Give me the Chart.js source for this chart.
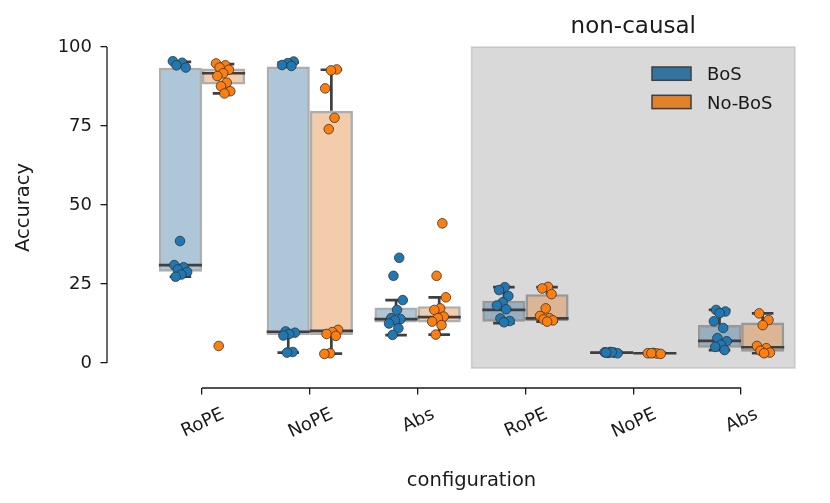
<!DOCTYPE html>
<html>
<head>
<meta charset="utf-8">
<script src="https://cdn.jsdelivr.net/npm/chart.js@4.4.1/dist/chart.umd.min.js"></script>
<style>
  html, body { margin: 0; padding: 0; background: #fff; }
  #wrap { width: 830px; height: 503px; }
</style>
</head>
<body>
<div id="wrap"><canvas id="chart" width="830" height="503"></canvas></div>
<script>
// x categories (first three causal, last three non-causal)
const categories = ["RoPE", "NoPE", "Abs", "RoPE", "NoPE", "Abs"];
const nonCausal = [false, false, false, true, true, true];
const hues = ["BoS", "No-BoS"];
const yTicks = [0, 25, 50, 75, 100];

// box statistics (accuracy)
const bosLow = [27.3, 3.3, 8.8, 12.6, 3.1, 4.1];
const bosQ1 = [28.9, 8.9, 12.8, 13.1, 3.2, 4.8];
const bosMed = [31.0, 9.9, 13.9, 16.8, 3.3, 7.0];
const bosQ3 = [93.4, 93.8, 17.6, 19.7, 3.4, 12.0];
const bosHigh = [95.3, 95.1, 19.9, 24.0, 3.5, 16.8];

const nobosLow = [85.3, 3.0, 9.0, 13.1, 2.9, 3.1];
const nobosQ1 = [88.1, 8.9, 12.8, 13.2, 3.0, 3.6];
const nobosMed = [91.7, 10.2, 14.5, 14.1, 3.1, 5.0];
const nobosQ3 = [93.2, 79.8, 18.0, 21.8, 3.2, 12.8];
const nobosHigh = [94.6, 92.8, 20.8, 24.0, 3.3, 15.7];

// individual runs (strip points)
const bosPoints = [
  [95.5, 95.0, 94.2, 93.5, 38.6, 31.0, 30.3, 29.6, 28.8, 28.0, 27.3],
  [95.4, 94.9, 94.3, 94.0, 10.0, 9.6, 9.2, 8.7, 3.5, 3.3],
  [33.3, 27.6, 19.9, 16.8, 14.2, 13.9, 13.5, 12.5, 11.0, 8.9],
  [24.0, 23.1, 21.2, 19.2, 18.2, 17.0, 14.1, 13.3, 12.9],
  [3.5, 3.4, 3.3, 3.2, 3.1, 3.4, 3.3],
  [16.8, 16.3, 15.8, 13.2, 11.1, 7.9, 6.9, 5.8, 5.1, 4.1],
];
const nobosPoints = [
  [94.8, 94.2, 93.5, 92.8, 91.7, 90.8, 88.7, 87.6, 86.0, 85.3, 5.4],
  [92.9, 92.6, 86.9, 77.6, 74.0, 10.5, 9.8, 9.2, 8.6, 3.1, 2.9],
  [44.2, 27.6, 20.8, 17.3, 16.8, 14.7, 14.2, 13.1, 12.0, 9.0],
  [24.1, 23.6, 21.8, 17.3, 14.9, 14.2, 13.8, 13.5, 13.1],
  [3.2, 3.1, 3.0, 3.1, 2.9],
  [15.7, 13.6, 12.0, 5.4, 4.7, 3.9, 3.3, 3.1],
];

const spanBottom = -1.6;
const ink = "#1a1a1a";
const FONT = "DejaVu Sans";

Chart.defaults.font.family = FONT;

// small deterministic jitter for the strip points
function jitter(i) {
  return (((i * 0.6180339) % 1) - 0.5) * 0.14;
}

function stripPoints(values, offset) {
  const pts = [];
  values.forEach((vals, c) => {
    vals.forEach((v, i) => pts.push({ x: c + offset + jitter(i + c * 3), y: v }));
  });
  return pts;
}

function boxes(q1, q3) {
  return q1.map((v, c) => ({ x: c, y: [v, q3[c]] }));
}

// medians, whiskers and caps as one broken line
function boxLines(lo, q1, med, q3, hi, offset) {
  const pts = [];
  const seg = (x0, y0, x1, y1) => {
    pts.push({ x: x0, y: y0 }, { x: x1, y: y1 }, { x: x1, y: null });
  };
  categories.forEach((_, c) => {
    const cx = c + offset;
    seg(cx - 0.2, med[c], cx + 0.2, med[c]);
    seg(cx, q3[c], cx, hi[c]);
    seg(cx, q1[c], cx, lo[c]);
    seg(cx - 0.1, hi[c], cx + 0.1, hi[c]);
    seg(cx - 0.1, lo[c], cx + 0.1, lo[c]);
  });
  return pts;
}

const lineStyle = {
  type: "line",
  borderColor: "#3f3f3f",
  borderWidth: 2.7,
  borderCapStyle: "butt",
  pointRadius: 0,
  fill: false,
  spanGaps: false,
  tension: 0,
  order: 1,
};

const boxStyle = {
  type: "bar",
  borderWidth: 2.6,
  borderColor: "rgba(63,63,63,0.42)",
  borderSkipped: false,
  categoryPercentage: 0.8,
  barPercentage: 1.0,
  order: 2,
};

const pointStyle = {
  type: "scatter",
  pointRadius: 4.8,
  pointBorderWidth: 0.8,
  pointBorderColor: "#333333",
  order: 0,
};

const overlay = {
  id: "overlay",
  beforeDatasetsDraw(chart) {
    const { ctx, scales: { x, y } } = chart;
    const first = nonCausal.indexOf(true);
    const x0 = x.getPixelForValue(first - 0.5);
    const x1 = x.getPixelForValue(categories.length - 0.5);
    const y0 = y.getPixelForValue(100);
    const y1 = y.getPixelForValue(spanBottom);
    ctx.save();
    ctx.fillStyle = "rgba(128,128,128,0.3)";
    ctx.fillRect(x0, y0, x1 - x0, y1 - y0);
    ctx.strokeStyle = "rgba(128,128,128,0.3)";
    ctx.lineWidth = 1.5;
    ctx.strokeRect(x0, y0, x1 - x0, y1 - y0);
    ctx.restore();
  },
  afterDraw(chart) {
    const { ctx, chartArea, scales: { x, y } } = chart;
    ctx.save();

    // trimmed spines
    ctx.strokeStyle = ink;
    ctx.lineWidth = 1.3;
    ctx.beginPath();
    ctx.moveTo(chartArea.left, y.getPixelForValue(yTicks[0]));
    ctx.lineTo(chartArea.left, y.getPixelForValue(yTicks[yTicks.length - 1]));
    ctx.moveTo(x.getPixelForValue(0), chartArea.bottom);
    ctx.lineTo(x.getPixelForValue(categories.length - 1), chartArea.bottom);
    ctx.stroke();

    // rotated, centred x tick labels
    ctx.fillStyle = ink;
    ctx.font = "18px " + FONT;
    ctx.textAlign = "center";
    ctx.textBaseline = "alphabetic";
    const rot = (25 * Math.PI) / 180;
    const capH = 13.1;
    categories.forEach((label, i) => {
      const w = ctx.measureText(label).width;
      const cy = chartArea.bottom + 18 + (w * Math.sin(rot) + capH * Math.cos(rot)) / 2;
      ctx.save();
      ctx.translate(x.getPixelForValue(i), cy);
      ctx.rotate(-rot);
      ctx.fillText(label, 0, capH / 2);
      ctx.restore();
    });

    // axis titles
    ctx.font = "19.5px " + FONT;
    ctx.fillText("configuration", (x.getPixelForValue(-0.5) + x.getPixelForValue(5.5)) / 2, 486);
    ctx.save();
    ctx.translate(29, (y.getPixelForValue(100) + y.getPixelForValue(spanBottom)) / 2);
    ctx.rotate(-Math.PI / 2);
    ctx.fillText("Accuracy", 0, 0);
    ctx.restore();

    // panel title over the non-causal span
    const first = nonCausal.indexOf(true);
    ctx.font = "23px " + FONT;
    ctx.fillText("non-causal",
      (x.getPixelForValue(first - 0.5) + x.getPixelForValue(categories.length - 0.5)) / 2, 32.5);

    // legend
    const legendColors = ["#3274a1", "#e1812c"];
    ctx.font = "18px " + FONT;
    ctx.textAlign = "left";
    hues.forEach((name, i) => {
      const top = 67 + i * 28.3;
      ctx.fillStyle = legendColors[i];
      ctx.fillRect(652, top, 39, 13.3);
      ctx.strokeStyle = "#3f3f3f";
      ctx.lineWidth = 1.5;
      ctx.strokeRect(652, top, 39, 13.3);
      ctx.fillStyle = ink;
      ctx.fillText(name, 707, top + 13.3);
    });

    ctx.restore();
  },
};

new Chart(document.getElementById("chart"), {
  type: "bar",
  data: {
    datasets: [
      { ...pointStyle, label: "BoS points", data: stripPoints(bosPoints, -0.2), pointBackgroundColor: "#1f77b4" },
      { ...pointStyle, label: "No-BoS points", data: stripPoints(nobosPoints, 0.2), pointBackgroundColor: "#ff7f0e" },
      { ...lineStyle, label: "BoS lines", data: boxLines(bosLow, bosQ1, bosMed, bosQ3, bosHigh, -0.2) },
      { ...lineStyle, label: "No-BoS lines", data: boxLines(nobosLow, nobosQ1, nobosMed, nobosQ3, nobosHigh, 0.2) },
      { ...boxStyle, label: "BoS", data: boxes(bosQ1, bosQ3), backgroundColor: "rgba(50,116,161,0.4)" },
      { ...boxStyle, label: "No-BoS", data: boxes(nobosQ1, nobosQ3), backgroundColor: "rgba(225,129,44,0.4)" },
    ],
  },
  options: {
    responsive: false,
    animation: false,
    layout: { padding: { left: 0, top: 47, right: 35, bottom: 0 } },
    plugins: { legend: { display: false }, tooltip: { enabled: false } },
    scales: {
      x: {
        type: "linear",
        offset: false,
        min: -0.881,
        max: 5.5,
        afterBuildTicks: (scale) => {
          scale.ticks = categories.map((_, i) => ({ value: i }));
        },
        afterFit: (scale) => { scale.height = 115; },
        ticks: { display: false },
        border: { display: false },
        grid: { offset: false, drawOnChartArea: false, drawTicks: true, tickLength: 6.5, color: ink, lineWidth: 1.3 },
      },
      y: {
        type: "linear",
        min: -7.9,
        max: 100,
        afterBuildTicks: (scale) => {
          scale.ticks = yTicks.map((v) => ({ value: v }));
        },
        afterFit: (scale) => { scale.width = 107; },
        ticks: { color: ink, font: { size: 18 }, padding: 8.5 },
        border: { display: false },
        grid: { drawOnChartArea: false, drawTicks: true, tickLength: 6.5, color: ink, lineWidth: 1.3 },
      },
    },
  },
  plugins: [overlay],
});
</script>
</body>
</html>
